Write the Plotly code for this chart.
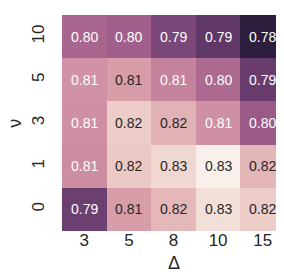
import numpy as np
import plotly.graph_objects as go

# ---- data ----
delta_labels = ["3", "5", "8", "10", "15"]
nu_labels = ["0", "1", "3", "5", "10"]  # bottom to top
score_nu0 = [0.7907, 0.8144, 0.8198, 0.8274, 0.8239]
score_nu1 = [0.8111, 0.8231, 0.8259, 0.8310, 0.8193]
score_nu3 = [0.8116, 0.8239, 0.8188, 0.8116, 0.7989]
score_nu5 = [0.8121, 0.8144, 0.8086, 0.8030, 0.7902]
score_nu10 = [0.8019, 0.8004, 0.7933, 0.7887, 0.7800]

z = np.array([score_nu0, score_nu1, score_nu3, score_nu5, score_nu10])
vmin, vmax = float(z.min()), float(z.max())
xi = list(range(len(delta_labels)))
yi = list(range(len(nu_labels)))

# ---- cubehelix colormap (seaborn style, reversed: low = dark) ----
def cubehelix(x, start=0.0, rot=0.4, gamma=1.0, hue=0.8):
    xg = x ** gamma
    a = hue * xg * (1 - xg) / 2
    phi = 2 * np.pi * (start / 3 + rot * x)
    r = xg + a * (-0.14861 * np.cos(phi) + 1.78277 * np.sin(phi))
    g = xg + a * (-0.29227 * np.cos(phi) - 0.90649 * np.sin(phi))
    b = xg + a * (1.97294 * np.cos(phi))
    return np.clip([r, g, b], 0, 1)

LIGHT, DARK = 0.95, 0.15

def color_at(s):
    return cubehelix(DARK + (LIGHT - DARK) * s)

def to_rgb(c):
    return "rgb(%d,%d,%d)" % tuple(int(round(v * 255)) for v in c)

colorscale = [[s, to_rgb(color_at(s))] for s in np.linspace(0, 1, 41)]

def rel_lum(c):
    c = np.where(c <= 0.03928, c / 12.92, ((c + 0.055) / 1.055) ** 2.4)
    return 0.2126 * c[0] + 0.7152 * c[1] + 0.0722 * c[2]

FONT = "Liberation Sans, Arial, sans-serif"

fig = go.Figure(go.Heatmap(
    z=z, x=xi, y=yi,
    colorscale=colorscale, zmin=vmin, zmax=vmax,
    showscale=False, xgap=0, ygap=0, hoverinfo="skip",
))

annotations = []
for i in yi:
    for j in xi:
        v = z[i, j]
        s = (v - vmin) / (vmax - vmin)
        col = "white" if rel_lum(color_at(s)) < 0.408 else "#262626"
        annotations.append(dict(
            x=j, y=i, xref="x", yref="y", text="%.2f" % v,
            showarrow=False, font=dict(size=14, color=col, family=FONT)))

# axis titles placed as paper annotations
annotations.append(dict(x=0.5, y=-0.15, xref="paper", yref="paper",
                        text="Δ", showarrow=False, xanchor="center", yanchor="middle",
                        font=dict(size=18, color="#262626", family=FONT)))
annotations.append(dict(x=-0.212, y=0.5, xref="paper", yref="paper",
                        text="ν", showarrow=False, xanchor="center", yanchor="middle",
                        textangle=-90, borderpad=0,
                        font=dict(size=18, color="#262626", family=FONT)))

fig.update_layout(
    width=284, height=278,
    margin=dict(l=54, r=7, t=7, b=55),
    paper_bgcolor="white", plot_bgcolor="white",
    font=dict(family=FONT, size=17, color="#262626"),
    annotations=annotations,
    xaxis=dict(range=[-0.5, 4.5], tickvals=xi, ticktext=delta_labels,
               ticks="", ticklabelstandoff=-3,
               showgrid=False, zeroline=False, showline=False,
               tickfont=dict(size=17)),
    yaxis=dict(range=[-0.5, 4.5], tickvals=yi, ticktext=nu_labels,
               ticks="outside", ticklen=10, tickcolor="rgba(0,0,0,0)",
               tickangle=-90, showgrid=False, zeroline=False, showline=False,
               tickfont=dict(size=17)),
)

fig.write_html("out.html")
